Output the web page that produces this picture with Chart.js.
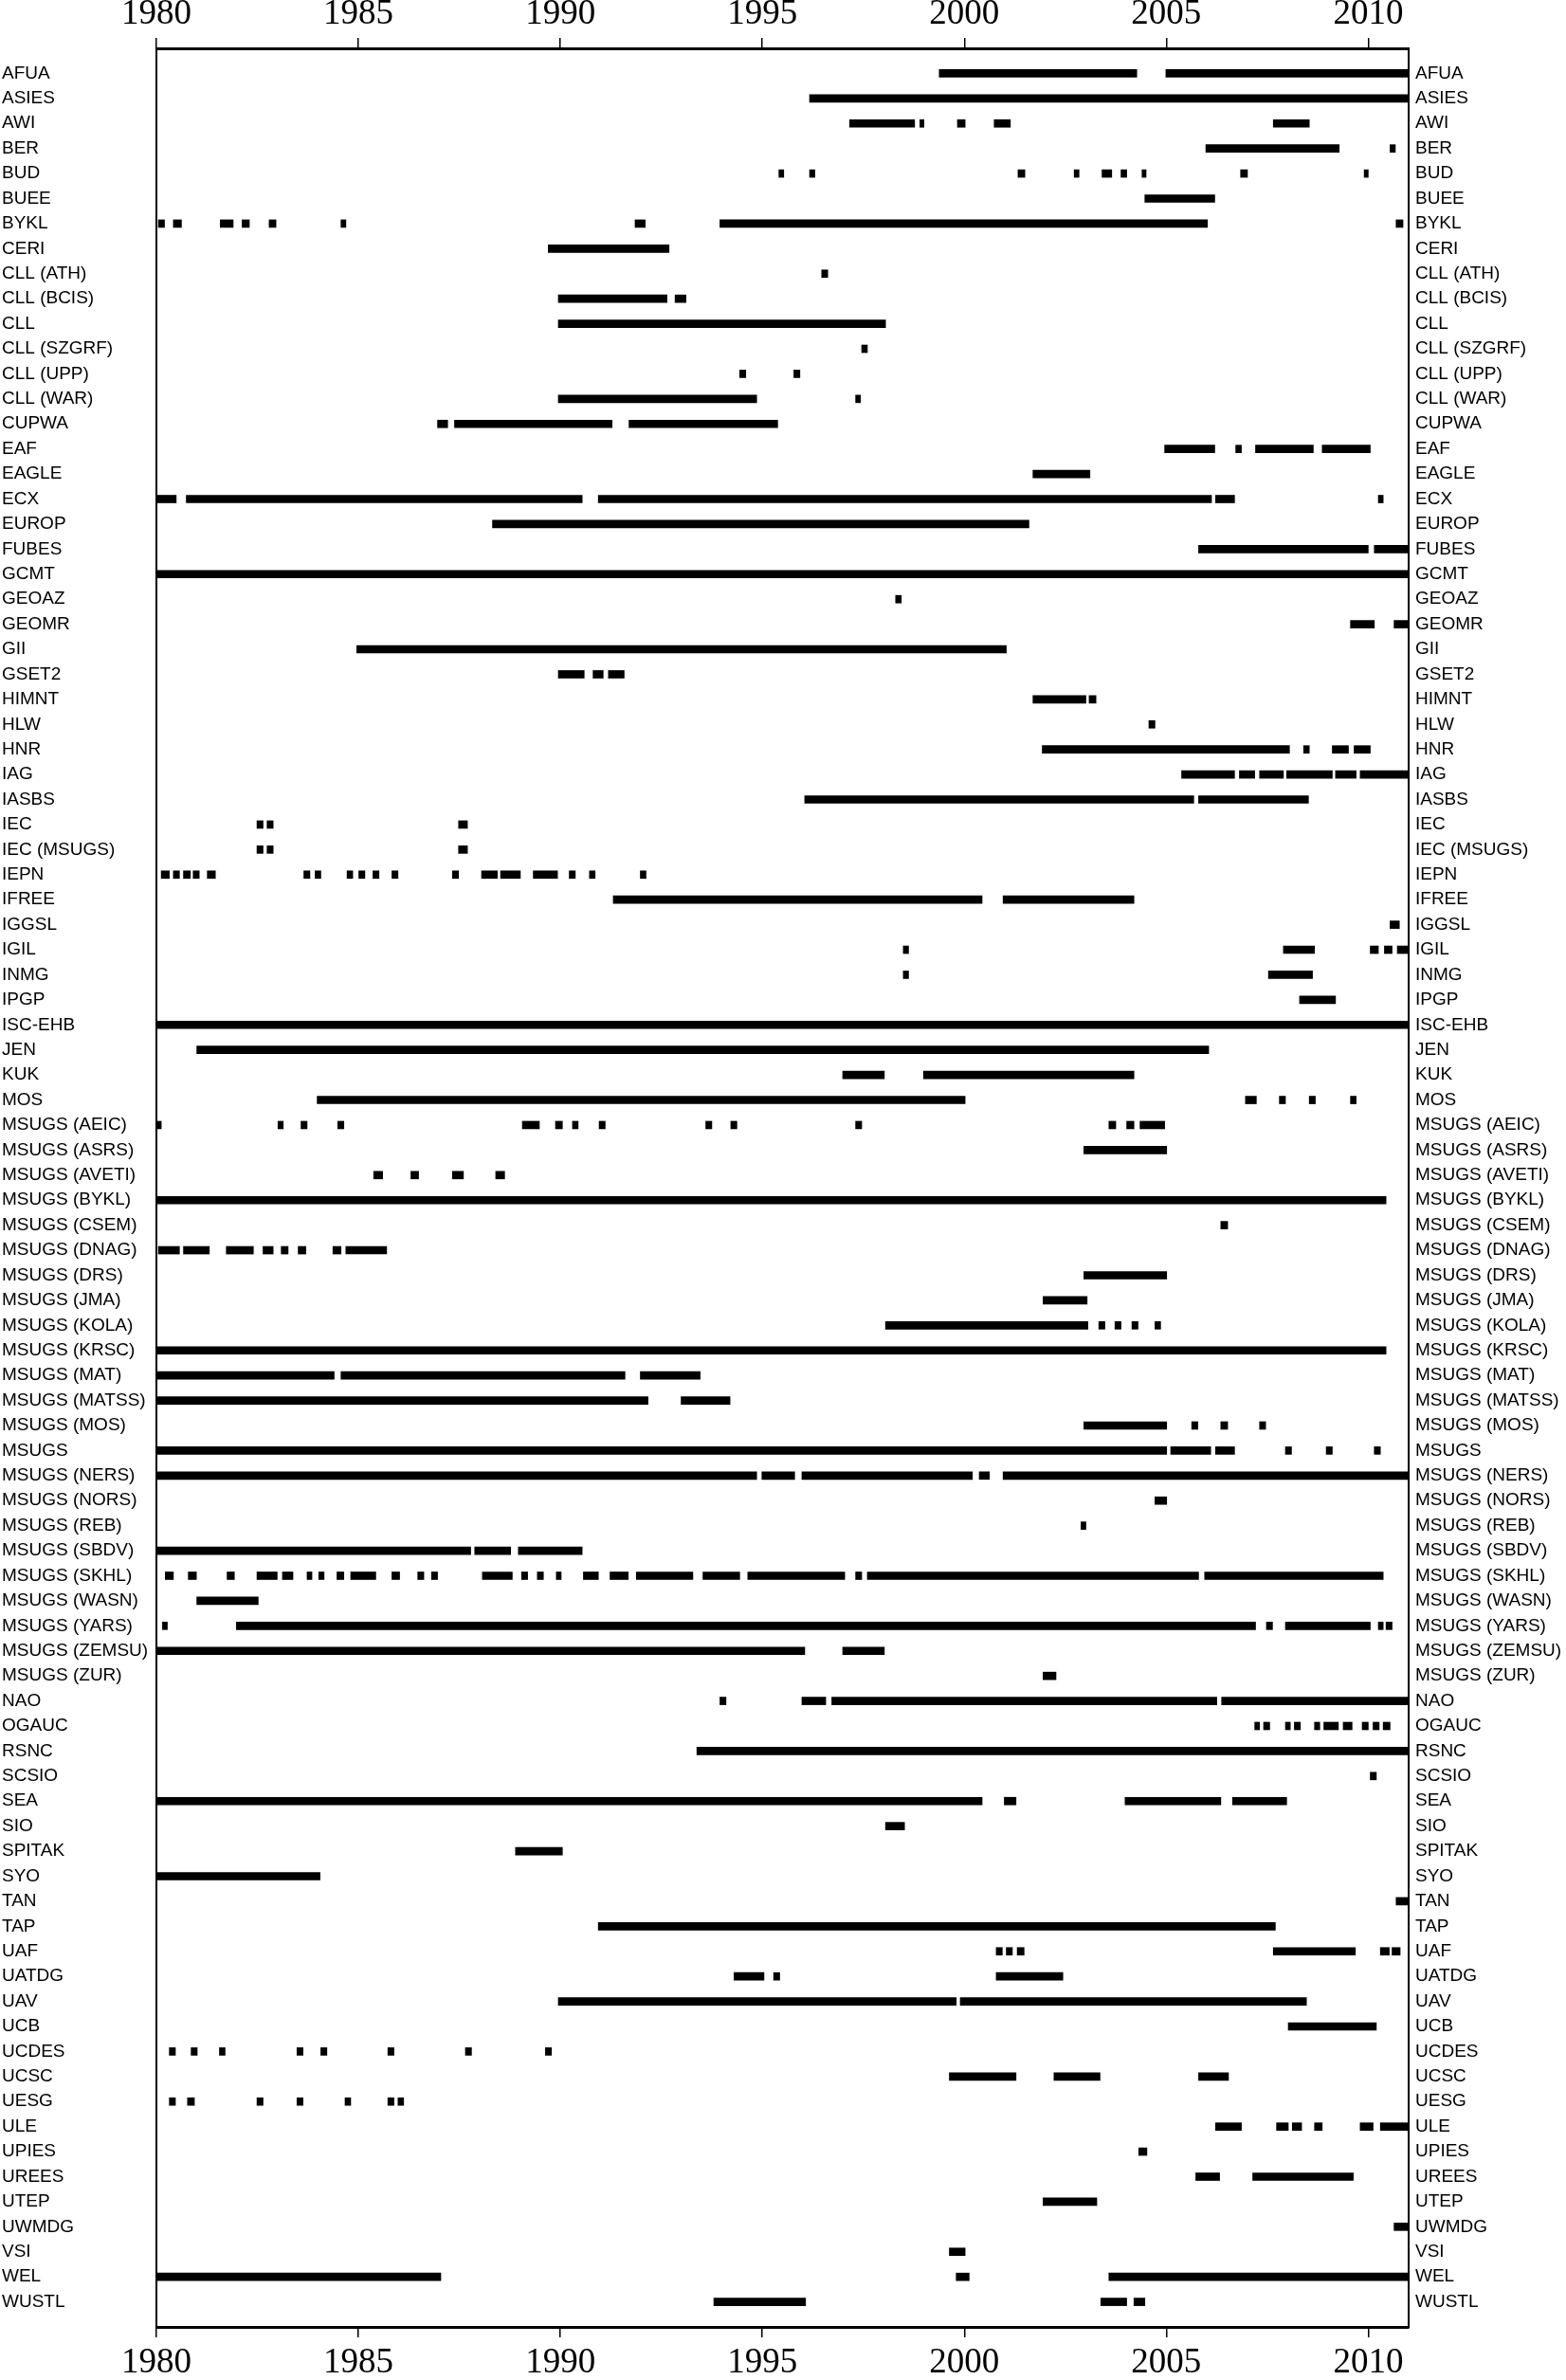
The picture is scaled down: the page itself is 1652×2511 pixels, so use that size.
<!DOCTYPE html>
<html><head><meta charset="utf-8">
<script src="https://cdn.jsdelivr.net/npm/chart.js@4/dist/chart.umd.min.js"></script>
<style>html,body{margin:0;padding:0;background:#fff}canvas{display:block}</style>
</head><body>
<canvas id="c" width="1652" height="2511"></canvas>
<script>
const stations = ["AFUA","ASIES","AWI","BER","BUD","BUEE","BYKL","CERI","CLL (ATH)","CLL (BCIS)","CLL","CLL (SZGRF)","CLL (UPP)","CLL (WAR)","CUPWA","EAF","EAGLE","ECX","EUROP","FUBES","GCMT","GEOAZ","GEOMR","GII","GSET2","HIMNT","HLW","HNR","IAG","IASBS","IEC","IEC (MSUGS)","IEPN","IFREE","IGGSL","IGIL","INMG","IPGP","ISC-EHB","JEN","KUK","MOS","MSUGS (AEIC)","MSUGS (ASRS)","MSUGS (AVETI)","MSUGS (BYKL)","MSUGS (CSEM)","MSUGS (DNAG)","MSUGS (DRS)","MSUGS (JMA)","MSUGS (KOLA)","MSUGS (KRSC)","MSUGS (MAT)","MSUGS (MATSS)","MSUGS (MOS)","MSUGS","MSUGS (NERS)","MSUGS (NORS)","MSUGS (REB)","MSUGS (SBDV)","MSUGS (SKHL)","MSUGS (WASN)","MSUGS (YARS)","MSUGS (ZEMSU)","MSUGS (ZUR)","NAO","OGAUC","RSNC","SCSIO","SEA","SIO","SPITAK","SYO","TAN","TAP","UAF","UATDG","UAV","UCB","UCDES","UCSC","UESG","ULE","UPIES","UREES","UTEP","UWMDG","VSI","WEL","WUSTL"];

// reporting periods [start year, end year] for each station, same order as stations
const periods = [
[[1999.38,2004.27],[2004.99,2011]],
[[1996.17,2011]],
[[1997.16,1998.77],[1998.9,1999.0],[1999.83,2000.02],[2000.74,2001.14],[2007.65,2008.54]],
[[2005.98,2009.28],[2010.54,2010.67]],
[[1995.41,1995.53],[1996.17,1996.3],[2001.33,2001.5],[2002.72,2002.84],[2003.41,2003.65],[2003.88,2004.02],[2004.4,2004.5],[2006.84,2007.01],[2009.9,2010.0]],
[[2004.47,2006.2]],
[[1980.05,1980.2],[1980.42,1980.62],[1981.58,1981.9],[1982.12,1982.3],[1982.79,1982.96],[1984.57,1984.69],[1991.85,1992.1],[1993.95,2006.02],[2010.69,2010.86]],
[[1989.7,1992.69]],
[[1996.47,1996.62]],
[[1989.95,1992.64],[1992.84,1993.11]],
[[1989.95,1998.05]],
[[1997.46,1997.6]],
[[1994.44,1994.59],[1995.78,1995.93]],
[[1989.95,1994.86],[1997.31,1997.43]],
[[1986.96,1987.21],[1987.38,1991.28],[1991.7,1995.38]],
[[2004.96,2006.2],[2006.72,2006.86],[2007.21,2008.64],[2008.86,2010.05]],
[[2001.7,2003.11]],
[[1980.02,1980.49],[1980.74,1990.54],[1990.94,2006.12],[2006.22,2006.69],[2010.25,2010.37]],
[[1988.32,2001.6]],
[[2005.8,2010.0],[2010.15,2011]],
[[1980,2011]],
[[1998.3,1998.44]],
[[2009.56,2010.15],[2010.64,2011]],
[[1984.96,2001.04]],
[[1989.95,1990.59],[1990.81,1991.06],[1991.19,1991.58]],
[[2001.7,2003.01],[2003.09,2003.26]],
[[2004.57,2004.72]],
[[2001.93,2008.05],[2008.4,2008.54],[2009.11,2009.51],[2009.65,2010.05]],
[[2005.38,2006.69],[2006.81,2007.19],[2007.31,2007.9],[2007.98,2009.11],[2009.19,2009.7],[2009.8,2011]],
[[1996.05,2005.68],[2005.8,2008.52]],
[[1982.49,1982.64],[1982.74,1982.89],[1987.48,1987.7]],
[[1982.49,1982.64],[1982.74,1982.89],[1987.48,1987.7]],
[[1980.12,1980.32],[1980.42,1980.57],[1980.67,1980.84],[1980.91,1981.06],[1981.26,1981.46],[1983.65,1983.8],[1983.93,1984.07],[1984.72,1984.86],[1985.01,1985.16],[1985.36,1985.51],[1985.83,1985.98],[1987.33,1987.48],[1988.05,1988.44],[1988.52,1989.01],[1989.33,1989.93],[1990.22,1990.37],[1990.72,1990.86],[1991.98,1992.12]],
[[1991.31,2000.44],[2000.96,2004.2]],
[[2010.54,2010.77]],
[[1998.49,1998.62],[2007.9,2008.67],[2010.05,2010.25],[2010.4,2010.59],[2010.72,2011]],
[[1998.49,1998.62],[2007.53,2008.62]],
[[2008.3,2009.19]],
[[1980,2011]],
[[1981.0,2006.05]],
[[1996.99,1998.02],[1998.99,2004.2]],
[[1983.98,2000.02],[2006.96,2007.23],[2007.8,2007.95],[2008.54,2008.69],[2009.56,2009.7]],
[[1980,1980.12],[1983.01,1983.14],[1983.58,1983.73],[1984.49,1984.64],[1989.06,1989.48],[1989.88,1990.05],[1990.3,1990.44],[1990.96,1991.11],[1993.6,1993.75],[1994.22,1994.37],[1997.31,1997.46],[2003.58,2003.75],[2004.02,2004.2],[2004.35,2004.96]],
[[2002.96,2005.01]],
[[1985.38,1985.6],[1986.3,1986.49],[1987.33,1987.6],[1988.4,1988.62]],
[[1980,2010.44]],
[[2006.35,2006.52]],
[[1980.05,1980.57],[1980.67,1981.31],[1981.73,1982.4],[1982.64,1982.89],[1983.09,1983.26],[1983.51,1983.7],[1984.37,1984.57],[1984.69,1985.7]],
[[2002.96,2005.01]],
[[2001.95,2003.04]],
[[1998.05,2003.06],[2003.33,2003.48],[2003.73,2003.88],[2004.15,2004.3],[2004.72,2004.86]],
[[1980,2010.44]],
[[1980,1984.4],[1984.57,1991.6],[1991.98,1993.46]],
[[1980,1992.17],[1992.99,1994.2]],
[[2002.96,2005.01],[2005.63,2005.78],[2006.35,2006.52],[2007.31,2007.46]],
[[1980,2005.01],[2005.11,2006.1],[2006.22,2006.69],[2007.95,2008.1],[2008.96,2009.11],[2010.15,2010.3]],
[[1980,1994.86],[1994.99,1995.8],[1995.98,2000.2],[2000.37,2000.62],[2000.96,2011]],
[[2004.72,2005.01]],
[[2002.89,2003.01]],
[[1980,1987.78],[1987.88,1988.77],[1988.96,1990.54]],
[[1980.22,1980.42],[1980.79,1980.99],[1981.75,1981.93],[1982.49,1982.99],[1983.12,1983.38],[1983.73,1983.85],[1984.02,1984.15],[1984.47,1984.64],[1984.81,1985.43],[1985.83,1986.02],[1986.47,1986.62],[1986.81,1986.96],[1988.07,1988.81],[1989.04,1989.19],[1989.43,1989.58],[1989.9,1990.02],[1990.57,1990.94],[1991.23,1991.68],[1991.88,1993.28],[1993.53,1994.44],[1994.64,1997.04],[1997.31,1997.46],[1997.6,2005.8],[2005.95,2010.37]],
[[1981.0,1982.52]],
[[1980.15,1980.27],[1981.98,2007.21],[2007.48,2007.63],[2007.95,2010.05],[2010.25,2010.37],[2010.44,2010.59]],
[[1980,1996.05],[1996.99,1998.02]],
[[2001.95,2002.27]],
[[1993.95,1994.1],[1995.98,1996.57],[1996.72,2006.25],[2006.37,2011]],
[[2007.19,2007.31],[2007.41,2007.56],[2007.95,2008.07],[2008.17,2008.32],[2008.67,2008.8],[2008.9,2009.26],[2009.38,2009.6],[2009.85,2010.0],[2010.12,2010.27],[2010.37,2010.54]],
[[1993.38,2011]],
[[2010.05,2010.2]],
[[1980,2000.44],[2000.99,2001.28],[2003.98,2006.35],[2006.64,2007.98]],
[[1998.05,1998.52]],
[[1988.89,1990.05]],
[[1980,1984.05]],
[[2010.69,2011]],
[[1990.94,2007.7]],
[[2000.79,2000.94],[2001.04,2001.19],[2001.31,2001.48],[2007.65,2009.68],[2010.3,2010.52],[2010.59,2010.79]],
[[1994.3,1995.04],[1995.28,1995.43],[2000.79,2002.44]],
[[1989.95,1999.8],[1999.9,2008.47]],
[[2008.02,2010.2]],
[[1980.32,1980.47],[1980.86,1981.01],[1981.56,1981.7],[1983.48,1983.63],[1984.07,1984.22],[1985.73,1985.88],[1987.65,1987.8],[1989.63,1989.78]],
[[1999.63,2001.28],[2002.22,2003.36],[2005.8,2006.54]],
[[1980.32,1980.47],[1980.77,1980.94],[1982.49,1982.64],[1983.48,1983.63],[1984.67,1984.81],[1985.73,1985.88],[1985.98,1986.12]],
[[2006.22,2006.86],[2007.73,2008.02],[2008.12,2008.35],[2008.67,2008.86],[2009.8,2010.12],[2010.3,2011]],
[[2004.32,2004.52]],
[[2005.73,2006.32],[2007.14,2009.63]],
[[2001.95,2003.28]],
[[2010.64,2011]],
[[1999.63,2000.02]],
[[1980,1987.04],[1999.8,2000.12],[2003.58,2011]],
[[1993.8,1996.07],[2003.38,2004.02],[2004.2,2004.47]]
];

const yearTicks = [1980,1985,1990,1995,2000,2005,2010];
const yearMin = 1980, yearMax = 2011;

const rowLabels = [''].concat(stations, ['']);
const barData = [];
stations.forEach((s, i) => periods[i].forEach(p => barData.push({ y: s, x: [p[0], p[1]] })));

const serif = { family: '"Liberation Serif","Times New Roman",serif', size: 37 };
const sans = { family: '"Liberation Sans",Arial,sans-serif', size: 19 };

function xAxis(pos, h, pad) {
  return {
    type: 'linear', axis: 'x', position: pos, min: yearMin, max: yearMax,
    ticks: { stepSize: 5, includeBounds: false, font: serif, color: '#000', padding: pad,
      maxRotation: 0, autoSkip: false,
      callback: v => yearTicks.includes(v) ? String(v) : '' },
    grid: { display: true, drawOnChartArea: false, drawTicks: true, tickLength: 11, color: '#000', lineWidth: 1.5 },
    border: { display: true, color: '#000', width: 3 },
    afterFit(s) { s.height = h; }
  };
}
function yAxis(pos, w, align, pad) {
  return {
    type: 'category', axis: 'y', position: pos, labels: rowLabels, offset: false,
    ticks: { autoSkip: false, font: sans, color: '#000', crossAlign: align, padding: pad },
    grid: { display: false, drawTicks: false },
    border: { display: true, color: '#000', width: 2 },
    afterFit(s) { s.width = w; }
  };
}

new Chart(document.getElementById('c'), {
  type: 'bar',
  data: {
    datasets: [{
      data: barData, xAxisID: 'x', yAxisID: 'y',
      backgroundColor: '#000', borderWidth: 0, barThickness: 8, grouped: false
    }]
  },
  options: {
    indexAxis: 'y', responsive: false, animation: false, devicePixelRatio: 1,
    layout: { padding: { left: 2, right: 0, top: 0, bottom: 0 }, autoPadding: false },
    plugins: { legend: { display: false }, tooltip: { enabled: false } },
    scales: {
      x: xAxis('bottom', 56, 5),
      x2: xAxis('top', 51, 3),
      y: yAxis('left', 163, 'far', 0),
      y2: yAxis('right', 166, 'near', 7)
    }
  }
});
</script>
</body></html>
